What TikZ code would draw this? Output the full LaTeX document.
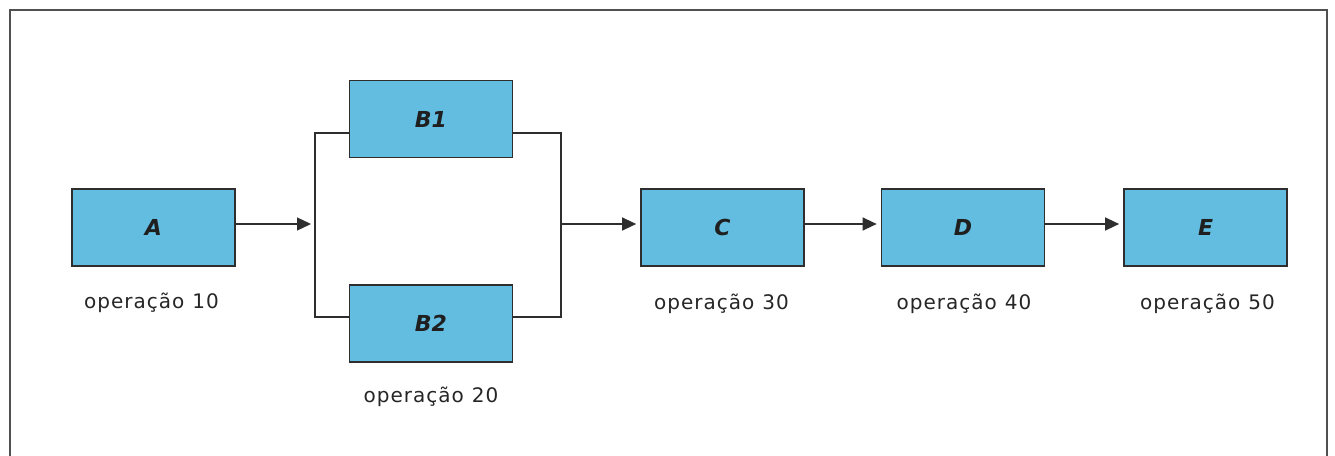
\documentclass[tikz,border=0pt]{standalone}
\usepackage{fontspec}
\setmainfont{DejaVu Sans}
\newfontfamily\labfont[LetterSpace=5]{DejaVu Sans}
\usetikzlibrary{arrows.meta}
\definecolor{boxblue}{HTML}{62BDE1}
\definecolor{edge}{HTML}{2E2E2E}
\definecolor{frame}{HTML}{505050}
\tikzset{
  opbox/.style={draw=edge, line width=1.7pt, fill=boxblue, minimum width=163pt, minimum height=77pt, inner sep=0pt, font=\fontsize{22}{24}\selectfont\bfseries\itshape, text=black!88},
  conn/.style={draw=edge, line width=1.3pt},
  arr/.style={conn, -{Triangle[length=14pt,width=13pt]}, shorten >=4pt},
  oplabel/.style={anchor=base, inner sep=0pt, font=\labfont\fontsize{20}{22}\selectfont, text=black!85}
}
\begin{document}
\begin{tikzpicture}[x=1pt,y=-1pt]
\useasboundingbox (0,0) rectangle (1335,455);
\fill[white] (0,0) rectangle (1335,455);
\begin{scope}
\clip (0,0) rectangle (1335,455);
\draw[frame, line width=2pt] (10,470) -- (10,10) -- (1327,10) -- (1327,470);
\end{scope}
\node[opbox] (A) at (153.5,227.5) {A};
\node[opbox] (B1) at (431,119) {B1};
\node[opbox] (B2) at (431,323.5) {B2};
\node[opbox] (C) at (722.5,227.5) {C};
\node[opbox] (D) at (963,227.5) {D};
\node[opbox] (E) at (1205.5,227.5) {E};
\coordinate (tl) at (315,133);
\coordinate (bl) at (315,317);
\coordinate (ml) at (315,224);
\coordinate (tr) at (561,133);
\coordinate (br) at (561,317);
\coordinate (mr) at (561,224);
\draw[conn] (B1.west |- tl) -- (tl) -- (bl) -- (B2.west |- bl);
\draw[conn] (B1.east |- tr) -- (tr) -- (br) -- (B2.east |- br);
\draw[arr] (A.east |- ml) -- (ml);
\draw[arr] (mr) -- (C.west |- mr);
\draw[arr] (C.east |- mr) -- (D.west |- mr);
\draw[arr] (D.east |- mr) -- (E.west |- mr);
\node[oplabel] (lA) at (151.5,308) {operação\hspace{0.4em}10};
\node[oplabel] (lB) at (431,402) {operação\hspace{0.4em}20};
\node[oplabel] (lC) at (721.5,309) {operação\hspace{0.4em}30};
\node[oplabel] (lD) at (964,309) {operação\hspace{0.4em}40};
\node[oplabel] (lE) at (1207.5,309) {operação\hspace{0.4em}50};
\end{tikzpicture}
\end{document}
